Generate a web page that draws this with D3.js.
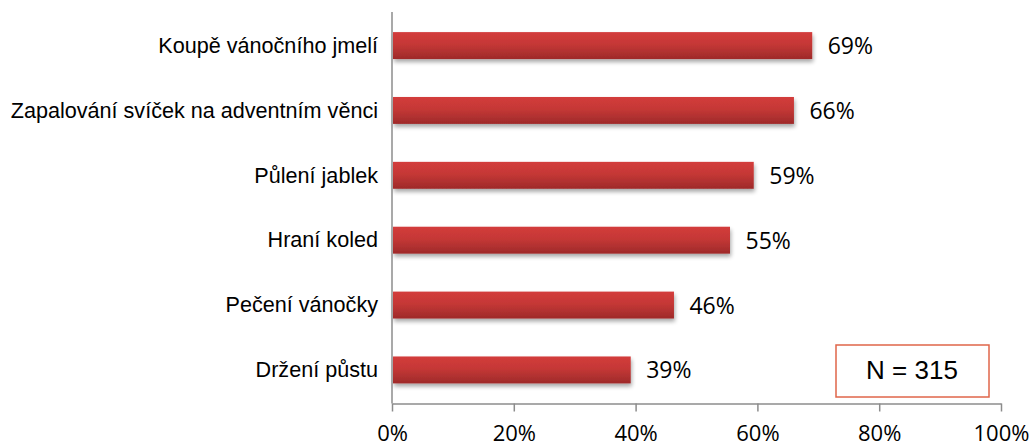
<!DOCTYPE html>
<html><head><meta charset="utf-8">
<script src="https://cdn.jsdelivr.net/npm/d3@7"></script>
<style>body{margin:0;background:#fff;}svg{display:block;}</style>
</head><body>
<svg id="c" width="1035" height="447"></svg>
<script>
const categories = ["Koupě vánočního jmelí","Zapalování svíček na adventním věnci","Půlení jablek","Hraní koled","Pečení vánočky","Držení půstu"];
const values = [69.0, 66.0, 59.4, 55.5, 46.3, 39.2];
const valueLabels = ["69%","66%","59%","55%","46%","39%"];
const ticks = [0, 20, 40, 60, 80, 100];
const tickLabels = ["0%","20%","40%","60%","80%","100%"];
const note = "N = 315";

const svg = d3.select("#c");
const L = 392, R = 1001, T = 12, B = 403.5;
const x = d3.scaleLinear().domain([0,100]).range([L,R]);
const y = d3.scaleBand().domain(categories).range([T,B]).paddingInner(0.585).paddingOuter(0.31);

const defs = svg.append("defs");
const g = defs.append("linearGradient").attr("id","bg").attr("x1",0).attr("y1",0).attr("x2",0).attr("y2",1);
g.append("stop").attr("offset","0%").attr("stop-color","#d33c3b");
g.append("stop").attr("offset","45%").attr("stop-color","#c53836");
g.append("stop").attr("offset","100%").attr("stop-color","#9e2a2a");
const f = defs.append("filter").attr("id","sh").attr("x","-5%").attr("y","-30%").attr("width","110%").attr("height","180%");
f.append("feGaussianBlur").attr("in","SourceAlpha").attr("stdDeviation",2.2).attr("result","b");
f.append("feOffset").attr("in","b").attr("dx",1).attr("dy",3).attr("result","o");
f.append("feComponentTransfer").attr("in","o").attr("result","o2").append("feFuncA").attr("type","linear").attr("slope",0.35);
const m = f.append("feMerge");
m.append("feMergeNode").attr("in","o2");
m.append("feMergeNode").attr("in","SourceGraphic");

// bars
svg.append("g").selectAll("rect").data(values).join("rect")
  .attr("x", x(0)+1)
  .attr("y", (d,i)=>y(categories[i]))
  .attr("width", d=>x(d)-x(0)-1)
  .attr("height", y.bandwidth())
  .attr("fill","url(#bg)")
  .attr("filter","url(#sh)");

// value labels
svg.append("g").selectAll("text").data(values).join("text")
  .attr("x", d=>x(d)+15.5)
  .attr("y", (d,i)=>y(categories[i])+y.bandwidth()/2 + 8.5)
  .attr("font-family","'Open Sans', sans-serif")
  .attr("font-size",23)
  .attr("fill","#000")
  .text((d,i)=>valueLabels[i]);

// category labels
svg.append("g").selectAll("text").data(categories).join("text")
  .attr("x", 378)
  .attr("y", d=>y(d)+y.bandwidth()/2 + 7.3)
  .attr("text-anchor","end")
  .attr("font-family","'Liberation Sans', Arial, sans-serif")
  .attr("font-size",21.6)
  .attr("fill","#000")
  .text(d=>d);

// y axis line
svg.append("line").attr("x1",L).attr("x2",L).attr("y1",T).attr("y2",B)
  .attr("stroke","#8c8c8c").attr("stroke-width",1.5);

// x axis
const xa = svg.append("g").attr("transform",`translate(0,${B})`)
  .call(d3.axisBottom(x).tickValues(ticks).tickSize(8).tickSizeOuter(0).tickFormat((d,i)=>tickLabels[i]));
xa.select(".domain").attr("stroke","#8c8c8c").attr("stroke-width",1.5);
xa.selectAll(".tick line").attr("stroke","#8c8c8c").attr("stroke-width",1.5);
xa.selectAll(".tick text").attr("font-family","'Open Sans', sans-serif").attr("font-size",22)
  .attr("fill","#000").attr("y",37).attr("dy","0");

// N box
svg.append("rect").attr("x",836).attr("y",345).attr("width",153).attr("height",52)
  .attr("fill","#fff").attr("stroke","#e0664a").attr("stroke-width",1.5);
svg.append("text").attr("x",912).attr("y",379).attr("text-anchor","middle")
  .attr("font-family","'Liberation Sans', Arial, sans-serif").attr("font-size",26).attr("fill","#000").text(note);
</script>
</body></html>
